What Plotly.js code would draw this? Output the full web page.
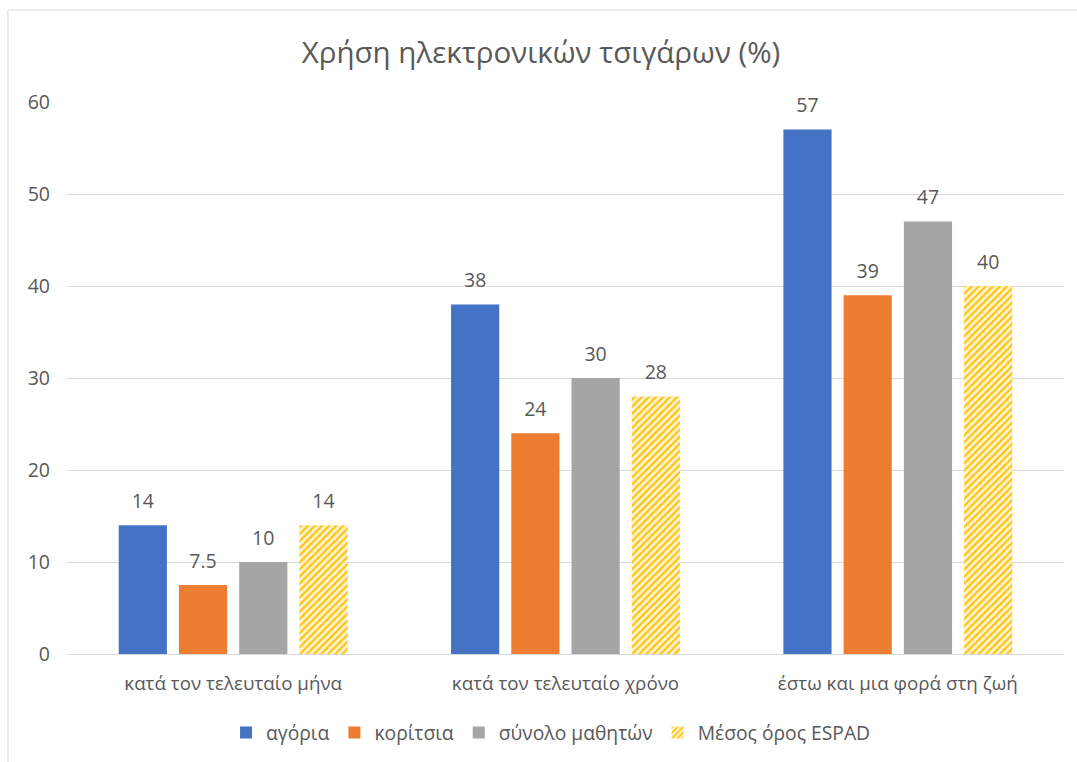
<!DOCTYPE html>
<html>
<head>
<meta charset="utf-8">
<script src="https://cdn.plot.ly/plotly-3.0.1.min.js"></script>
<style>
html,body{margin:0;padding:0;background:#fff;}
#chart{width:1077px;height:762px;}
</style>
</head>
<body>
<div id="chart"></div>
<script>
const categories = ["κατά τον τελευταίο μήνα", "κατά τον τελευταίο χρόνο", "έστω και μια φορά στη ζωή"];
const seriesNames = ["αγόρια", "κορίτσια", "σύνολο μαθητών", "Μέσος όρος ESPAD"];
const boys = [14, 38, 57];
const girls = [7.5, 24, 39];
const allStudents = [10, 30, 47];
const espad = [14, 28, 40];
const yTicks = [0, 10, 20, 30, 40, 50, 60];

const seriesValues = [boys, girls, allStudents, espad];
const colors = ["#4472c4", "#ed7d31", "#a5a5a5", "#ffc000"];
const textColor = "#595959";
const fontFamily = "'Open Sans', 'Noto Sans', sans-serif";
const labelSize = 19.5;

const barTraces = seriesValues.map((vals, i) => {
  const t = {
    type: "bar",
    name: seriesNames[i],
    x: categories,
    y: vals,
    offsetgroup: "g" + i,
    marker: {color: colors[i], line: {width: 0}},
    hoverinfo: "x+y+name"
  };
  if (i === 3) {
    t.marker = {
      color: "#fff2cc",
      line: {width: 0},
      pattern: {shape: "/", fgcolor: "#ffc000", bgcolor: "#fff2cc", size: 5, solidity: 0.4}
    };
  }
  return t;
});

// value labels: invisible markers at bar tops, text above
const labelTraces = seriesValues.map((vals, i) => ({
  type: "scatter",
  mode: "markers+text",
  x: categories,
  y: vals,
  offsetgroup: "g" + i,
  text: vals.map(v => String(v)),
  textposition: "top center",
  textfont: {family: fontFamily, size: labelSize, color: textColor},
  marker: {size: 18, color: "rgba(0,0,0,0)", opacity: 0},
  cliponaxis: false,
  showlegend: false,
  hoverinfo: "skip"
}));

const layout = {
  width: 1077,
  height: 762,
  margin: {l: 67, r: 13, t: 102, b: 108},
  paper_bgcolor: "#ffffff",
  plot_bgcolor: "#ffffff",
  font: {family: fontFamily, color: textColor, size: 19.5},
  title: {
    text: "Χρήση ηλεκτρονικών τσιγάρων (%)",
    font: {family: fontFamily, size: 29.5, color: textColor},
    x: 541 / 1077, xanchor: "center",
    y: 1 - 53 / 762, yanchor: "middle"
  },
  barmode: "group",
  bargap: 0.275,
  bargroupgap: 0.2,
  scattermode: "group",
  scattergap: 0.275,
  showlegend: true,
  legend: {
    orientation: "h",
    x: 0.4855, xanchor: "center",
    yref: "container",
    y: 1 - 733 / 762, yanchor: "middle",
    font: {family: fontFamily, size: 19.3, color: textColor},
    itemwidth: 30,
    itemclick: false
  },
  xaxis: {
    type: "category",
    showgrid: false,
    showline: true,
    linecolor: "#d9d9d9",
    linewidth: 1,
    ticks: "",
    ticklabelstandoff: 12,
    tickfont: {family: fontFamily, size: 18.8, color: textColor},
    automargin: false
  },
  yaxis: {
    range: [0, 60],
    tickvals: yTicks,
    ticktext: yTicks.map(String),
    showgrid: true,
    gridcolor: "#d9d9d9",
    gridwidth: 1,
    zeroline: false,
    showline: false,
    ticks: "",
    ticklabelstandoff: 16,
    tickfont: {family: fontFamily, size: 19.5, color: textColor},
    automargin: false
  },
  shapes: [{
    type: "rect", xref: "paper", yref: "paper",
    x0: (8 - 67) / 997, x1: 1.05,
    y0: -0.3, y1: (654 - 10) / 552,
    line: {color: "#d9d9d9", width: 1},
    fillcolor: "rgba(0,0,0,0)",
    layer: "below"
  }]
};

Plotly.newPlot("chart", barTraces.concat(labelTraces), layout, {displayModeBar: false, staticPlot: true});
</script>
</body>
</html>
